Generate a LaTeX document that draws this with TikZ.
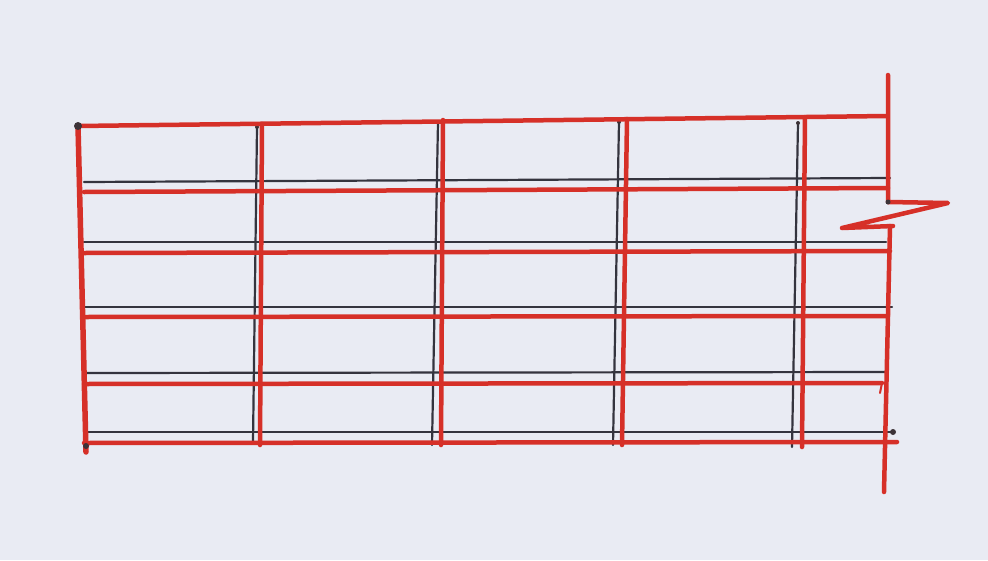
\documentclass[tikz,border=0pt]{standalone}
\definecolor{penred}{RGB}{214,48,40}
\definecolor{penink}{RGB}{52,52,62}
\definecolor{dotink}{RGB}{60,50,55}
\definecolor{paper}{RGB}{233,235,243}
\begin{document}
\begin{tikzpicture}[x=1pt,y=-1pt,
  redline/.style={draw=penred, line width=4.5pt, line cap=round, line join=round},
  inkline/.style={draw=penink, line width=2.2pt, line cap=round},
  inkdot/.style={fill=dotink}]
\fill[paper] (0,0) rectangle (988,560);
\useasboundingbox (0,0) rectangle (988,560);
% coordinates
\coordinate (TL) at (78,126); \coordinate (TR) at (887,116);
\coordinate (BL) at (86,452);
\coordinate (RT) at (888,75); \coordinate (Z1) at (888,202); \coordinate (Z2) at (948,203);
\coordinate (Z3) at (842,228); \coordinate (Z4) at (893,226);
\coordinate (RS) at (890,226); \coordinate (RB) at (884,492);
% black horizontals
\foreach \yl/\xr/\yr [count=\i] in {182/890/178, 242/886/242, 307/892/307, 373/888/372, 432/893/432}{
  \coordinate (bh\i a) at (84,\yl); \coordinate (bh\i b) at (\xr,\yr);
  \draw[inkline] (bh\i a) -- (bh\i b);}
% black verticals
\foreach \xt/\yt/\xb/\yb [count=\i] in {257/127/253/442, 438/122/432/445, 619/122/613/445, 798/123/792/447}{
  \coordinate (bv\i a) at (\xt,\yt); \coordinate (bv\i b) at (\xb,\yb);
  \draw[inkline] (bv\i a) -- (bv\i b);
  \fill[inkdot] (bv\i a) circle (2pt);}
% red horizontals
\foreach \yl/\xr/\yr [count=\i] in {192/888/188, 253/890/251, 317/888/316, 384/882/383, 443/897/442}{
  \coordinate (rh\i a) at (84,\yl); \coordinate (rh\i b) at (\xr,\yr);
  \draw[redline] (rh\i a) -- (rh\i b);}
\coordinate (tick) at (880,393);
\draw[redline, line width=2pt] (rh4b) -- (tick);
% red verticals
\foreach \xt/\yt/\xb/\yb [count=\i] in {262/124/260/445, 443/120/441/445, 627/119/622/445, 805/117/802/447}{
  \coordinate (rv\i a) at (\xt,\yt); \coordinate (rv\i b) at (\xb,\yb);
  \draw[redline] (rv\i a) -- (rv\i b);}
% frame
\draw[redline] (TL) -- (TR);
\draw[redline, line width=5.5pt] (TL) -- (BL);
\draw[redline] (RT) -- (Z1) -- (Z2) -- (Z3) -- (Z4);
\draw[redline] (RS) -- (RB);
% dots
\fill[inkdot] (TL) circle (4pt);
\fill[inkdot] (BL) ++(0,-6) circle (3pt);
\fill[inkdot] (bh5b) circle (3pt);
\fill[inkdot] (Z1) circle (2.5pt);
\end{tikzpicture}
\end{document}
